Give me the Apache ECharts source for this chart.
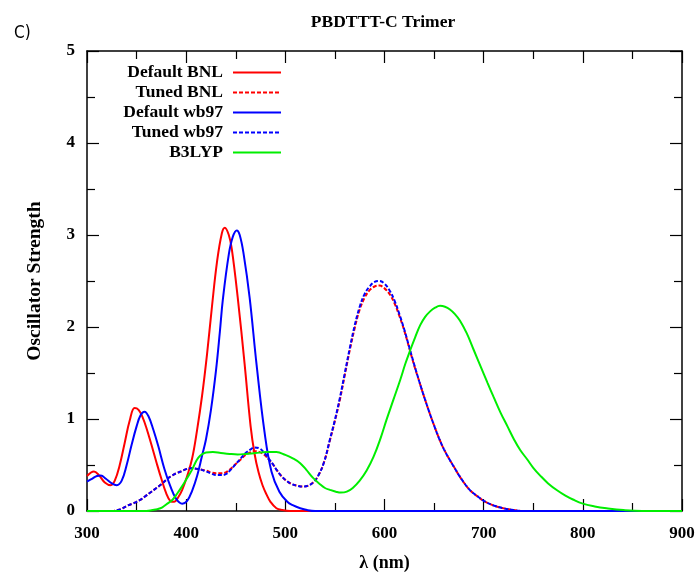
<!DOCTYPE html>
<html>
<head>
<meta charset="utf-8">
<title>PBDTTT-C Trimer</title>
<script src="https://cdn.jsdelivr.net/npm/echarts@6/dist/echarts.min.js"></script>
<style>
  html, body { margin: 0; padding: 0; background: #fff; }
  .chart { width: 698px; height: 573px; }
</style>
</head>
<body>
<div class="chart"></div>
<script>
// wavelength (nm), oscillator strength
var defaultBNL = [
  [300, 0.38], [307, 0.43], [312, 0.39], [318, 0.31], [324, 0.28], [328, 0.33], [333, 0.50],
  [338, 0.74], [343, 0.98], [348, 1.12], [352, 1.10], [356, 1.02], [360, 0.90], [365, 0.72],
  [370, 0.53], [375, 0.35], [380, 0.19], [384, 0.11], [388, 0.10], [392, 0.15], [396, 0.23],
  [401, 0.38], [406, 0.57], [411, 0.88], [416, 1.25], [421, 1.70], [426, 2.22], [431, 2.70],
  [436, 3.02], [439, 3.08], [443, 3.00], [446, 2.85], [452, 2.32], [459, 1.59], [465, 0.92],
  [469, 0.62], [473, 0.42], [477, 0.28], [481, 0.18], [485, 0.10], [491, 0.03], [497, 0.01],
  [505, 0], [600, 0], [900, 0]
];
var tunedBNL = [
  [300, 0], [325, 0], [331, 0.01], [336, 0.03], [341, 0.06], [346, 0.08], [350, 0.10],
  [355, 0.13], [360, 0.17], [365, 0.21], [370, 0.25], [375, 0.29], [380, 0.34], [385, 0.38],
  [390, 0.41], [395, 0.43], [400, 0.455], [405, 0.465], [410, 0.46], [415, 0.45], [420, 0.44],
  [425, 0.42], [430, 0.41], [435, 0.41], [440, 0.42], [445, 0.46], [450, 0.51], [455, 0.56],
  [460, 0.61], [465, 0.64], [469, 0.65], [474, 0.64], [479, 0.61], [484, 0.55], [488, 0.50],
  [491, 0.45], [496, 0.38], [501, 0.33], [506, 0.295], [512, 0.275], [518, 0.265], [523, 0.275],
  [528, 0.31], [533, 0.38], [539, 0.53], [545, 0.77], [550, 0.98], [555, 1.21], [560, 1.48],
  [565, 1.75], [570, 1.99], [575, 2.19], [580, 2.32], [585, 2.40], [590, 2.44], [595, 2.45],
  [600, 2.42], [605, 2.36], [610, 2.26], [615, 2.12], [620, 1.96], [625, 1.77], [630, 1.58],
  [635, 1.41], [640, 1.24], [645, 1.08], [650, 0.93], [655, 0.79], [660, 0.67], [665, 0.57],
  [670, 0.48], [675, 0.39], [680, 0.31], [685, 0.24], [690, 0.19], [695, 0.15], [700, 0.11],
  [710, 0.06], [720, 0.03], [730, 0.01], [740, 0], [900, 0]
];
var defaultWb97 = [
  [300, 0.32], [305, 0.35], [310, 0.38], [314, 0.385], [319, 0.35], [325, 0.30], [330, 0.28],
  [335, 0.33], [340, 0.50], [345, 0.72], [350, 0.92], [354, 1.04], [358, 1.08], [362, 1.03],
  [367, 0.88], [372, 0.70], [378, 0.46], [384, 0.27], [390, 0.13], [396, 0.08], [401, 0.11],
  [406, 0.22], [411, 0.38], [416, 0.60], [420, 0.78], [425, 1.10], [430, 1.52], [434, 1.95],
  [437, 2.30], [443, 2.79], [447, 2.98], [451, 3.05], [454, 3.00], [458, 2.79], [464, 2.32],
  [471, 1.59], [479, 0.86], [486, 0.43], [494, 0.21], [502, 0.10], [508, 0.06], [515, 0.03],
  [522, 0.01], [530, 0], [600, 0], [900, 0]
];
var tunedWb97 = [
  [300, 0], [325, 0], [331, 0.01], [336, 0.03], [341, 0.06], [346, 0.08], [350, 0.10],
  [355, 0.13], [360, 0.17], [365, 0.21], [370, 0.25], [375, 0.29], [380, 0.34], [385, 0.38],
  [390, 0.41], [395, 0.43], [400, 0.455], [405, 0.465], [410, 0.46], [415, 0.45], [420, 0.43],
  [425, 0.41], [430, 0.39], [435, 0.39], [440, 0.40], [445, 0.45], [450, 0.51], [455, 0.57],
  [460, 0.63], [465, 0.67], [469, 0.69], [474, 0.68], [479, 0.63], [484, 0.56], [488, 0.50],
  [491, 0.45], [496, 0.38], [501, 0.33], [506, 0.295], [512, 0.275], [518, 0.265], [523, 0.275],
  [528, 0.31], [533, 0.38], [539, 0.53], [545, 0.78], [550, 0.99], [555, 1.23], [560, 1.50],
  [565, 1.77], [570, 2.02], [575, 2.22], [580, 2.36], [585, 2.44], [590, 2.49], [595, 2.50],
  [600, 2.47], [605, 2.40], [610, 2.29], [615, 2.14], [620, 1.97], [625, 1.78], [630, 1.59],
  [635, 1.41], [640, 1.24], [645, 1.08], [650, 0.93], [655, 0.79], [660, 0.67], [665, 0.57],
  [670, 0.48], [675, 0.39], [680, 0.31], [685, 0.24], [690, 0.19], [695, 0.15], [700, 0.11],
  [710, 0.06], [720, 0.03], [730, 0.01], [740, 0], [900, 0]
];
var b3lyp = [
  [300, 0], [360, 0], [366, 0.01], [371, 0.02], [376, 0.04], [381, 0.08], [386, 0.12],
  [391, 0.19], [396, 0.27], [401, 0.36], [406, 0.45], [410, 0.54], [414, 0.60], [420, 0.635],
  [427, 0.64], [435, 0.63], [444, 0.62], [452, 0.615], [460, 0.62], [470, 0.63], [481, 0.64],
  [491, 0.64], [500, 0.61], [508, 0.57], [515, 0.52], [521, 0.45], [528, 0.36], [535, 0.29],
  [540, 0.25], [545, 0.23], [551, 0.21], [556, 0.20], [562, 0.21], [568, 0.25], [575, 0.33],
  [582, 0.44], [589, 0.59], [596, 0.79], [602, 0.99], [609, 1.21], [616, 1.43], [621, 1.60],
  [626, 1.75], [631, 1.89], [636, 2.02], [641, 2.11], [646, 2.17], [651, 2.21], [656, 2.23],
  [661, 2.22], [666, 2.19], [671, 2.14], [676, 2.07], [683, 1.93], [690, 1.75], [697, 1.57],
  [704, 1.39], [710, 1.24], [717, 1.07], [724, 0.92], [731, 0.77], [737, 0.66], [744, 0.56],
  [750, 0.47], [757, 0.385], [765, 0.30], [774, 0.225], [782, 0.17], [790, 0.125], [800, 0.08],
  [812, 0.05], [824, 0.03], [841, 0.01], [860, 0], [900, 0]
];

var seriesNames = ["Default BNL", "Tuned BNL", "Default wb97", "Tuned wb97", "B3LYP"];
var seriesData = [defaultBNL, tunedBNL, defaultWb97, tunedWb97, b3lyp];
var seriesColors = ["#ff0000", "#ff0000", "#0000ff", "#0000ff", "#00ee00"];
var seriesDashed = [false, true, false, true, false];

(function () {
  var myChart = echarts.init(document.querySelector(".chart"))
  var serif = "Liberation Serif"

  // one axis config, reused for the mirrored top / right axes
  function makeAxis(pos, min, max, interval, showLabel, margin) {
    return {
      type: "value",
      position: pos,
      min: min,
      max: max,
      interval: interval,
      axisLine: { show: true, onZero: false, lineStyle: { color: "#000", width: 1.5 } },
      axisTick: { show: true, inside: true, length: 12, lineStyle: { color: "#000", width: 1.2 } },
      minorTick: { show: true, splitNumber: 2, length: 8, lineStyle: { color: "#000", width: 1.2 } },
      splitLine: { show: false },
      minorSplitLine: { show: false },
      axisLabel: {
        show: showLabel,
        color: "#000",
        fontFamily: serif,
        fontWeight: "bold",
        fontSize: 17,
        margin: margin || 11
      }
    }
  }

  var xBottom = makeAxis("bottom", 300, 900, 100, true, 14)
  xBottom.name = "λ (nm)"
  xBottom.nameLocation = "middle"
  xBottom.nameGap = 43
  xBottom.nameTextStyle = { color: "#000", fontFamily: serif, fontWeight: "bold", fontSize: 18 }

  var yLeft = makeAxis("left", 0, 5, 1, true, 12)
  yLeft.name = "Oscillator Strength"
  yLeft.nameLocation = "middle"
  yLeft.nameGap = 42
  yLeft.nameTextStyle = { color: "#000", fontFamily: serif, fontWeight: "bold", fontSize: 19.5 }

  // legend: one small legend per row so text is right aligned against the line sample
  var legends = seriesNames.map(function (name, i) {
    return {
      data: [name],
      orient: "vertical",
      align: "right",
      right: 416,
      top: 63.5 + i * 20,
      padding: 0,
      itemWidth: 48,
      itemHeight: 14,
      itemStyle: { opacity: 0 },
      textStyle: {
        color: "#000",
        fontFamily: serif,
        fontWeight: "bold",
        fontSize: 17.5,
        padding: [0, 5, 0, 0]
      }
    }
  })

  var series = seriesNames.map(function (name, i) {
    return {
      name: name,
      type: "line",
      data: seriesData[i],
      xAxisIndex: 0,
      yAxisIndex: 0,
      symbol: "none",
      smooth: 0.4,
      clip: true,
      color: seriesColors[i],
      lineStyle: {
        color: seriesColors[i],
        width: 2,
        type: seriesDashed[i] ? [4, 2] : "solid"
      }
    }
  })

  var option = {
    animation: false,
    backgroundColor: "#fff",
    title: [
      {
        text: "PBDTTT-C Trimer",
        left: 378,
        top: 8,
        textAlign: "center",
        textStyle: { color: "#000", fontFamily: serif, fontWeight: "bold", fontSize: 17.5 }
      },
      {
        text: "C)",
        left: 9,
        top: 20,
        textStyle: { color: "#000", fontFamily: "DejaVu Sans Condensed", fontWeight: "normal", fontSize: 17 }
      }
    ],
    legend: legends,
    // keep the plot box fixed, do not shrink it to fit the axis names
    grid: { left: 87, right: 16, top: 51, bottom: 62, containLabel: false, outerBoundsMode: "none" },
    xAxis: [xBottom, makeAxis("top", 300, 900, 100, false)],
    yAxis: [yLeft, makeAxis("right", 0, 5, 1, false)],
    series: series
  }

  myChart.setOption(option)
  window.addEventListener("resize", function () {
    myChart.resize()
  })
}());
</script>
</body>
</html>
